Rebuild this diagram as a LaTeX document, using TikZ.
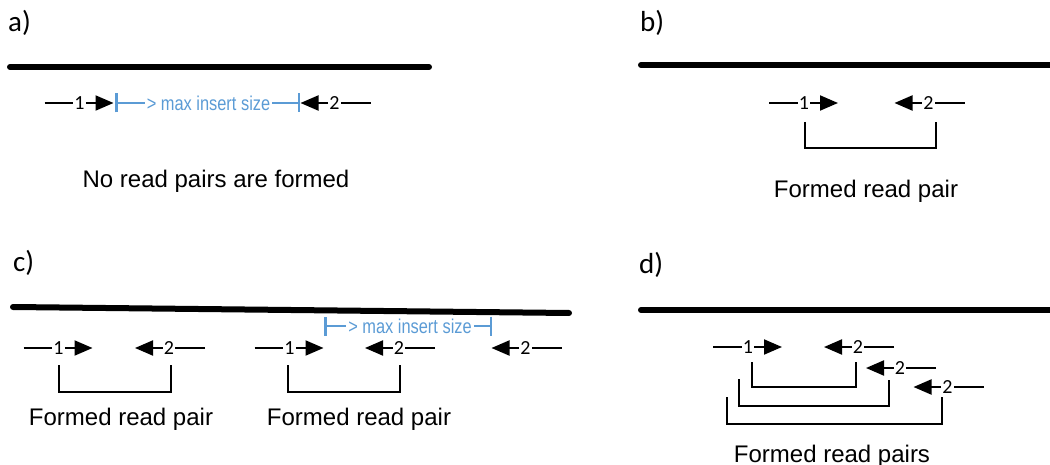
\documentclass[tikz,border=0pt]{standalone}
\usepackage{fontspec}
\setmainfont{Liberation Sans}
\newfontfamily\calibrifont{Carlito}
\newfontfamily\narrowsans[FakeStretch=0.82]{Liberation Sans}
\usepackage{tikz}
\usetikzlibrary{calc,arrows.meta,positioning}
\definecolor{insertblue}{RGB}{91,155,213}
\tikzstyle{refline}=[line width=6pt,line cap=round]
\tikzstyle{readline}=[line width=2pt]
\tikzstyle{readarrow}=[line width=2pt,-{Triangle[length=18pt,width=15pt]}]
\tikzstyle{readnum}=[inner sep=1pt,font=\calibrifont\fontsize{20}{24}\selectfont]
\tikzstyle{pairline}=[line width=2pt]
\tikzstyle{insertline}=[line width=2.5pt,draw=insertblue]
\tikzstyle{inserttext}=[text=insertblue,inner sep=2pt,font=\narrowsans\fontsize{20}{24}\selectfont]
\tikzstyle{caption}=[anchor=base,inner sep=0pt,font=\fontsize{24}{28}\selectfont]
\tikzstyle{panel}=[anchor=base west,inner sep=0pt,font=\calibrifont\fontsize{29}{32}\selectfont]

\begin{document}
\begin{tikzpicture}[x=1pt,y=-1pt]
\useasboundingbox (0,0) rectangle (1050,465);
% a)
\draw (8,32) node [panel] (la) {a)};
\coordinate (refa-l) at (10,67);
\coordinate (refa-r) at (429,67);
\draw[refline] (refa-l) -- (refa-r);
\draw (79.5,103) node [readnum] (a1) {1};
\draw (334.5,103) node [readnum] (a2) {2};
\coordinate (a1l) at (44.5,103);
\coordinate (a1t) at (113.5,103);
\coordinate (a2t) at (300.5,103);
\coordinate (a2r) at (370.5,103);
\draw[readline] (a1l) -- (a1);
\draw[readarrow] (a1) -- (a1t);
\draw[readline] (a2r) -- (a2);
\draw[readarrow] (a2) -- (a2t);
\draw (208.5,103) node [inserttext] (ia) {> max insert size};
\coordinate (ial) at (115,103);
\coordinate (iar) at (300,103);
\draw[insertline,{Bar[width=19pt]}-] (ial) -- (ia);
\draw[insertline,-{Bar[width=19pt]}] (ia) -- (iar);
\draw (216,188) node [caption] (ta) {No read pairs are formed};
% b)
\draw (640,32) node [panel] (lb) {b)};
\coordinate (refb-l) at (641,65);
\coordinate (refb-r) at (1053,65);
\draw[refline] (refb-l) -- (refb-r);
\draw (804,103) node [readnum] (b1) {1};
\draw (928.5,103) node [readnum] (b2) {2};
\coordinate (b1l) at (769,103);
\coordinate (b1t) at (838,103);
\coordinate (b2t) at (894.5,103);
\coordinate (b2r) at (964.5,103);
\draw[readline] (b1l) -- (b1);
\draw[readarrow] (b1) -- (b1t);
\draw[readline] (b2r) -- (b2);
\draw[readarrow] (b2) -- (b2t);
\draw[pairline] ($(b1)+(1,19)$) |- ($(b2)+(7.5,45)$) -- ($(b2)+(7.5,19)$);
\draw (866,198) node [caption] (tb) {Formed read pair};
% c)
\draw (13,272) node [panel] (lc) {c)};
\coordinate (refc-l) at (13,307);
\coordinate (refc-r) at (569,313);
\draw[refline] (refc-l) -- (refc-r);
\draw (58.5,348) node [readnum] (c1) {1};
\draw (169,348) node [readnum] (c2) {2};
\draw (289.5,348) node [readnum] (c3) {1};
\draw (399,348) node [readnum] (c4) {2};
\draw (525.5,348) node [readnum] (c5) {2};
\coordinate (c1l) at (23.5,348);
\coordinate (c1t) at (92.5,348);
\coordinate (c2t) at (135,348);
\coordinate (c2r) at (205,348);
\coordinate (c3l) at (254.5,348);
\coordinate (c3t) at (323.5,348);
\coordinate (c4t) at (365,348);
\coordinate (c4r) at (435,348);
\coordinate (c5t) at (491.5,348);
\coordinate (c5r) at (561.5,348);
\draw[readline] (c1l) -- (c1);
\draw[readarrow] (c1) -- (c1t);
\draw[readline] (c2r) -- (c2);
\draw[readarrow] (c2) -- (c2t);
\draw[readline] (c3l) -- (c3);
\draw[readarrow] (c3) -- (c3t);
\draw[readline] (c4r) -- (c4);
\draw[readarrow] (c4) -- (c4t);
\draw[readline] (c5r) -- (c5);
\draw[readarrow] (c5) -- (c5t);
\draw (410,326) node [inserttext] (ic) {> max insert size};
\coordinate (icl) at (324,326);
\coordinate (icr) at (492,326);
\draw[insertline,{Bar[width=19pt]}-] (icl) -- (ic);
\draw[insertline,-{Bar[width=19pt]}] (ic) -- (icr);
\draw[pairline] ($(c1)+(0.5,17)$) |- ($(c2)+(2,44)$) -- ($(c2)+(2,17)$);
\draw[pairline] ($(c3)+(-1.5,17)$) |- ($(c4)+(1,44)$) -- ($(c4)+(1,17)$);
\draw (121,425) node [caption] (tc1) {Formed read pair};
\draw (359,425) node [caption] (tc2) {Formed read pair};
% d)
\draw (639,273) node [panel] (ld) {d)};
\coordinate (refd-l) at (641,310);
\coordinate (refd-r) at (1053,310);
\draw[refline] (refd-l) -- (refd-r);
\draw (748,347) node [readnum] (d1) {1};
\draw (858,347) node [readnum] (d2) {2};
\draw (900,368) node [readnum] (d3) {2};
\draw (947.5,387) node [readnum] (d4) {2};
\coordinate (d1l) at (713,347);
\coordinate (d1t) at (782,347);
\coordinate (d2t) at (824,347);
\coordinate (d2r) at (894,347);
\coordinate (d3t) at (866,368);
\coordinate (d3r) at (936,368);
\coordinate (d4t) at (913.5,387);
\coordinate (d4r) at (983.5,387);
\draw[readline] (d1l) -- (d1);
\draw[readarrow] (d1) -- (d1t);
\draw[readline] (d2r) -- (d2);
\draw[readarrow] (d2) -- (d2t);
\draw[readline] (d3r) -- (d3);
\draw[readarrow] (d3) -- (d3t);
\draw[readline] (d4r) -- (d4);
\draw[readarrow] (d4) -- (d4t);
\draw[pairline] ($(d1)+(4,15)$) |- ($(d2)+(-2,40)$) -- ($(d2)+(-2,15)$);
\draw[pairline] ($(d1)+(-9,32)$) |- ($(d3)+(-11,38)$) -- ($(d3)+(-11,12)$);
\draw[pairline] ($(d1)+(-21,50)$) |- ($(d4)+(-5.5,37)$) -- ($(d4)+(-5.5,10)$);
\draw (832,462) node [caption] (td) {Formed read pairs};
\end{tikzpicture}
\end{document}
